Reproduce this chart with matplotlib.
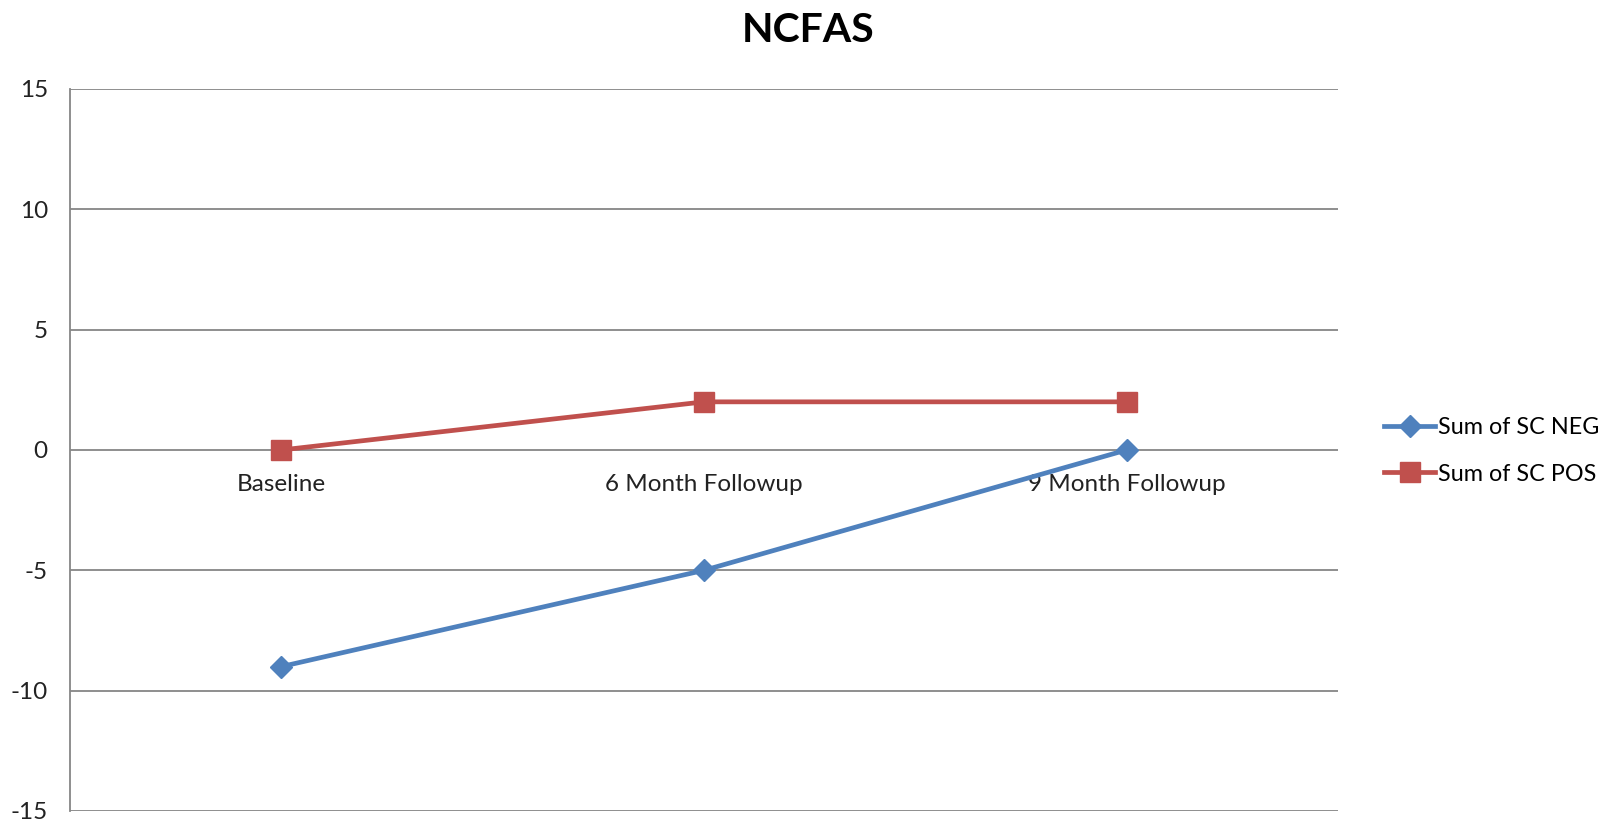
import matplotlib
matplotlib.use("Agg")
import matplotlib.pyplot as plt
from matplotlib.lines import Line2D

categories = ["Baseline", "6 Month Followup", "9 Month Followup"]
sc_neg = [-9, -5, 0]
sc_pos = [0, 2, 2]
y_ticks = [-15, -10, -5, 0, 5, 10, 15]

BLUE = "#4F81BD"
RED = "#C0504D"
GRID = "#868686"

plt.rcParams["font.family"] = ["Lato", "DejaVu Sans"]

fig = plt.figure(figsize=(16.11, 8.23), dpi=100)
fig.patch.set_facecolor("white")
ax = fig.add_axes([0.0435, 0.0146, 0.787, 0.8773])

x = list(range(len(categories)))
ax.plot(x, sc_neg, color=BLUE, lw=3.4, marker="D", ms=11,
        markerfacecolor=BLUE, markeredgecolor=BLUE, zorder=4,
        label="Sum of SC NEG")
ax.plot(x, sc_pos, color=RED, lw=3.4, marker="s", ms=14,
        markerfacecolor=RED, markeredgecolor=RED, zorder=4,
        label="Sum of SC POS")

ax.set_xlim(-0.5, 2.5)
ax.set_ylim(-15, 15)
ax.set_yticks(y_ticks)
ax.set_yticklabels([str(v) for v in y_ticks])
ax.yaxis.grid(True, color=GRID, lw=1.3)
ax.set_axisbelow(True)

ax.set_xticks(x)
ax.set_xticklabels(categories)
ax.spines["bottom"].set_position(("data", 0))
ax.spines["bottom"].set_visible(False)
ax.spines["top"].set_visible(False)
ax.spines["right"].set_visible(False)
ax.spines["left"].set_color(GRID)
ax.spines["left"].set_linewidth(1.3)
ax.tick_params(axis="x", length=0, pad=17, labelsize=17.5, colors="#222222")
ax.tick_params(axis="y", length=0, pad=16, labelsize=17.5, colors="#222222")

fig.text(0.5015, 0.963, "NCFAS", ha="center", va="center",
         fontsize=29.5, fontweight="bold", color="black")

handles = [
    Line2D([], [], color=BLUE, lw=3.4, marker="D", ms=11),
    Line2D([], [], color=RED, lw=3.4, marker="s", ms=14),
]
fig.legend(handles, ["Sum of SC NEG", "Sum of SC POS"],
           loc="center left", bbox_to_anchor=(0.846, 0.452),
           frameon=False, fontsize=16.8, handlelength=2.2,
           handletextpad=0.1, labelspacing=1.08)

fig.savefig("out.png", dpi=100, facecolor="white")
